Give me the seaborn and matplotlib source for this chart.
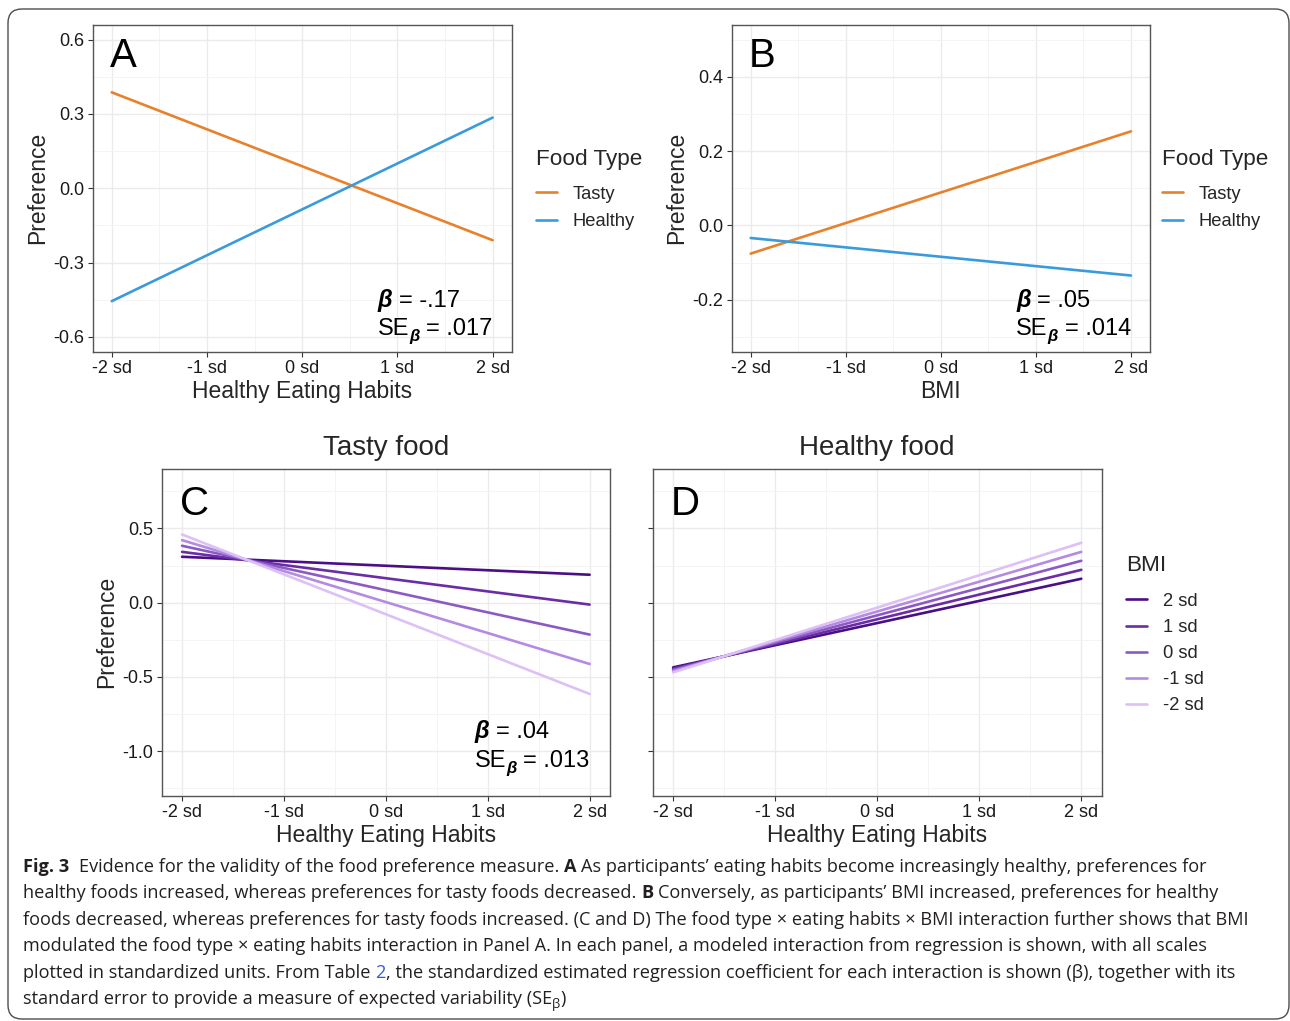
import pandas as pd
import seaborn as sns
import matplotlib.pyplot as plt
from matplotlib.patches import FancyBboxPatch
from matplotlib.font_manager import FontProperties
from matplotlib.transforms import IdentityTransform

# ---- values (model preference at -2 sd and +2 sd) ----
x_ends = [-2, 2]
sd_ticks = [-2, -1, 0, 1, 2]
sd_labels = ["-2 sd", "-1 sd", "0 sd", "1 sd", "2 sd"]

food_types = ["Tasty", "Healthy"]
tasty_by_habits = [0.387, -0.210]
healthy_by_habits = [-0.456, 0.285]
tasty_by_bmi = [-0.076, 0.253]
healthy_by_bmi = [-0.034, -0.135]

bmi_levels = ["2 sd", "1 sd", "0 sd", "-1 sd", "-2 sd"]
tasty_start = [0.309, 0.342, 0.383, 0.421, 0.459]
tasty_end = [0.188, -0.013, -0.215, -0.413, -0.615]
healthy_start = [-0.436, -0.445, -0.453, -0.461, -0.470]
healthy_end = [0.161, 0.221, 0.282, 0.342, 0.403]

betas = {"A": ("-.17", ".017"), "B": (".05", ".014"), "C": (".04", ".013")}

food_colors = ["#E8812B", "#3A9BDC"]
bmi_colors = ["#4A0E86", "#6A2DA6", "#8C5AC5", "#B48AE2", "#DCC0F6"]

W, H = 1290, 1021
SANS = ["Liberation Sans", "DejaVu Sans"]

sns.set_theme(style="white")
plt.rcParams["font.family"] = SANS
plt.rcParams["axes.unicode_minus"] = False


def long_frame(series, names, col):
    rows = []
    for name, ys in zip(names, series):
        for x, y in zip(x_ends, ys):
            rows.append({"x": x, "Preference": y, col: name})
    return pd.DataFrame(rows)


df_a = long_frame([tasty_by_habits, healthy_by_habits], food_types, "Food Type")
df_b = long_frame([tasty_by_bmi, healthy_by_bmi], food_types, "Food Type")
df_c = long_frame(list(zip(tasty_start, tasty_end)), bmi_levels, "BMI")
df_d = long_frame(list(zip(healthy_start, healthy_end)), bmi_levels, "BMI")

fig = plt.figure(figsize=(W / 100, H / 100), dpi=100)
fig.patch.set_facecolor("white")
renderer = fig.canvas.get_renderer()


def panel(x0, y0, x1, y1):
    # pixel box (from top-left) -> figure fraction
    return fig.add_axes([x0 / W, 1 - y1 / H, (x1 - x0) / W, (y1 - y0) / H])


def style(ax, ylim, yticks, yminor):
    ax.set_xlim(-2.2, 2.2)
    ax.set_ylim(ylim)
    ax.set_xticks(sd_ticks, sd_labels)
    ax.set_xticks([-1.5, -0.5, 0.5, 1.5], minor=True)
    ax.set_yticks(yticks, [f"{v:.1f}" for v in yticks])
    ax.set_yticks(yminor, minor=True)
    ax.grid(which="major", color="#EBEBEB", lw=1.0)
    ax.grid(which="minor", color="#F4F4F4", lw=0.7)
    ax.set_axisbelow(True)
    ax.tick_params(which="minor", length=0)
    ax.tick_params(which="major", length=3.5, width=0.8, color="#333333",
                   labelsize=13, labelcolor="#1a1a1a", pad=2.5,
                   left=True, bottom=True)
    for s in ax.spines.values():
        s.set_color("#555555")
        s.set_linewidth(1.0)


def adv(s, fp):
    # text advance in pixels, trailing/leading spaces included
    w1 = renderer.get_text_width_height_descent("|" + s + "|", fp, ismath=False)[0]
    w0 = renderer.get_text_width_height_descent("||", fp, ismath=False)[0]
    return w1 - w0


def draw_runs(x, y, runs):
    # x, y in display pixels (origin bottom-left), baseline aligned
    for s, fp, color, dy in runs:
        lead = len(s) - len(s.lstrip(" "))
        xd = x + (adv(s[:lead], fp) if lead else 0)
        fig.text(xd, y + dy, s.strip(" "), fontproperties=fp, color=color,
                 transform=IdentityTransform(), va="baseline", ha="left")
        x += adv(s, fp)
    return x


def beta_note(ax, key, y1, y2):
    b, se = betas[key]
    reg = FontProperties(family=SANS, size=17)
    bi = FontProperties(family=SANS, size=17, weight="bold", style="italic")
    bi_small = FontProperties(family=SANS, size=12, weight="bold", style="italic")
    line1 = [("β", bi, "black", 0), (f" = {b}", reg, "black", 0)]
    line2 = [("SE", reg, "black", 0), ("β", bi_small, "black", -6),
             (f" = {se}", reg, "black", 0)]
    width2 = sum(adv(s, fp) for s, fp, _, _ in line2)
    xr = ax.transData.transform((2, 0))[0]
    ya = ax.transAxes.transform((0, y1))[1]
    yb = ax.transAxes.transform((0, y2))[1]
    draw_runs(xr - width2, ya, line1)
    draw_runs(xr - width2, yb, line2)


def letter(ax, s, top):
    ax.text(-2.02, top, s, fontsize=29, va="top", ha="left", color="black")


def place_legend(ax, x, y, fontsize, spacing, title_gap):
    sns.move_legend(ax, "upper left", bbox_to_anchor=(x / W, 1 - y / H),
                    bbox_transform=fig.transFigure, frameon=False, borderpad=0,
                    borderaxespad=0, handlelength=1.15, handletextpad=0.85,
                    labelspacing=spacing, fontsize=fontsize, title_fontsize=16.2,
                    alignment="left")
    leg = ax.get_legend()
    # extra room between the legend title and the first key
    leg._legend_box.sep = spacing * fontsize + title_gap


label_size = 16.5

# ---- Panel A ----
ax_a = panel(92.7, 24.7, 511.7, 351.7)
sns.lineplot(data=df_a, x="x", y="Preference", hue="Food Type",
             hue_order=food_types, palette=food_colors, lw=1.9, ax=ax_a)
style(ax_a, (-0.66, 0.66), [-0.6, -0.3, 0.0, 0.3, 0.6], [-0.45, -0.15, 0.15, 0.45])
ax_a.set_xlabel("Healthy Eating Habits", fontsize=label_size, labelpad=2)
ax_a.set_ylabel("Preference", fontsize=label_size, labelpad=3)
letter(ax_a, "A", 0.61)
place_legend(ax_a, 535.5, 149, 13.2, 0.56, 4)

# ---- Panel B ----
ax_b = panel(731.7, 24.7, 1150, 351.7)
sns.lineplot(data=df_b, x="x", y="Preference", hue="Food Type",
             hue_order=food_types, palette=food_colors, lw=1.9, ax=ax_b)
style(ax_b, (-0.34, 0.54), [-0.2, 0.0, 0.2, 0.4], [-0.3, -0.1, 0.1, 0.3, 0.5])
ax_b.set_xlabel("BMI", fontsize=label_size, labelpad=2)
ax_b.set_ylabel("Preference", fontsize=label_size, labelpad=3)
letter(ax_b, "B", 0.508)
place_legend(ax_b, 1162, 149, 13.2, 0.56, 4)

# ---- Panel C ----
ax_c = panel(161.7, 469, 610, 795.7)
sns.lineplot(data=df_c, x="x", y="Preference", hue="BMI", hue_order=bmi_levels,
             palette=bmi_colors, lw=1.9, legend=False, ax=ax_c)
style(ax_c, (-1.3, 0.9), [-1.0, -0.5, 0.0, 0.5], [-1.25, -0.75, -0.25, 0.25, 0.75])
ax_c.set_xlabel("Healthy Eating Habits", fontsize=label_size, labelpad=2)
ax_c.set_ylabel("Preference", fontsize=label_size, labelpad=3)
ax_c.set_title("Tasty food", fontsize=20, pad=10)
letter(ax_c, "C", 0.79)

# ---- Panel D ----
ax_d = panel(652.7, 469, 1101.7, 795.7)
sns.lineplot(data=df_d, x="x", y="Preference", hue="BMI", hue_order=bmi_levels,
             palette=bmi_colors, lw=1.9, ax=ax_d)
style(ax_d, (-1.3, 0.9), [-1.0, -0.5, 0.0, 0.5], [-1.25, -0.75, -0.25, 0.25, 0.75])
ax_d.tick_params(labelleft=False)
ax_d.set_xlabel("Healthy Eating Habits", fontsize=label_size, labelpad=2)
ax_d.set_ylabel("")
ax_d.set_title("Healthy food", fontsize=20, pad=10)
letter(ax_d, "D", 0.79)
place_legend(ax_d, 1126, 555, 13.2, 0.5, 5.5)

fig.canvas.draw()
beta_note(ax_a, "A", 0.138, 0.051)
beta_note(ax_b, "B", 0.138, 0.051)
beta_note(ax_c, "C", 0.176, 0.089)

# ---- caption ----
cap_family = ["Open Sans", "DejaVu Sans"]
cap_size = 13.1
reg = FontProperties(family=cap_family, size=cap_size)
bold = FontProperties(family=cap_family, size=cap_size, weight="bold")
small = FontProperties(family=cap_family, size=cap_size * 0.72)
ink = "#231F20"
link = "#2F5FD0"
caption = [
    [("Fig. 3", bold, ink, 0),
     ("  Evidence for the validity of the food preference measure. ", reg, ink, 0),
     ("A", bold, ink, 0),
     (" As participants’ eating habits become increasingly healthy, preferences for", reg, ink, 0)],
    [("healthy foods increased, whereas preferences for tasty foods decreased. ", reg, ink, 0),
     ("B", bold, ink, 0),
     (" Conversely, as participants’ BMI increased, preferences for healthy", reg, ink, 0)],
    [("foods decreased, whereas preferences for tasty foods increased. (C and D) The food type × "
      "eating habits × BMI interaction further shows that BMI", reg, ink, 0)],
    [("modulated the food type × eating habits interaction in Panel A. In each panel, a modeled "
      "interaction from regression is shown, with all scales", reg, ink, 0)],
    [("plotted in standardized units. From Table ", reg, ink, 0),
     ("2", reg, link, 0),
     (", the standardized estimated regression coefficient for each interaction is shown (β), "
      "together with its", reg, ink, 0)],
    [("standard error to provide a measure of expected variability (SE", reg, ink, 0),
     ("β", small, ink, -4),
     (")", reg, ink, 0)],
]
baselines = [871.5, 898, 924.5, 951, 977.5, 1004]
for runs, yb in zip(caption, baselines):
    draw_runs(23, H - yb, runs)

# rounded frame around the whole figure
frame = FancyBboxPatch((8, 2), 1281, 1010, boxstyle="round,pad=0,rounding_size=14",
                       transform=IdentityTransform(), fill=False, ec="#4d4d4d", lw=1.0)
fig.add_artist(frame)

fig.savefig("out.png", dpi=100)
